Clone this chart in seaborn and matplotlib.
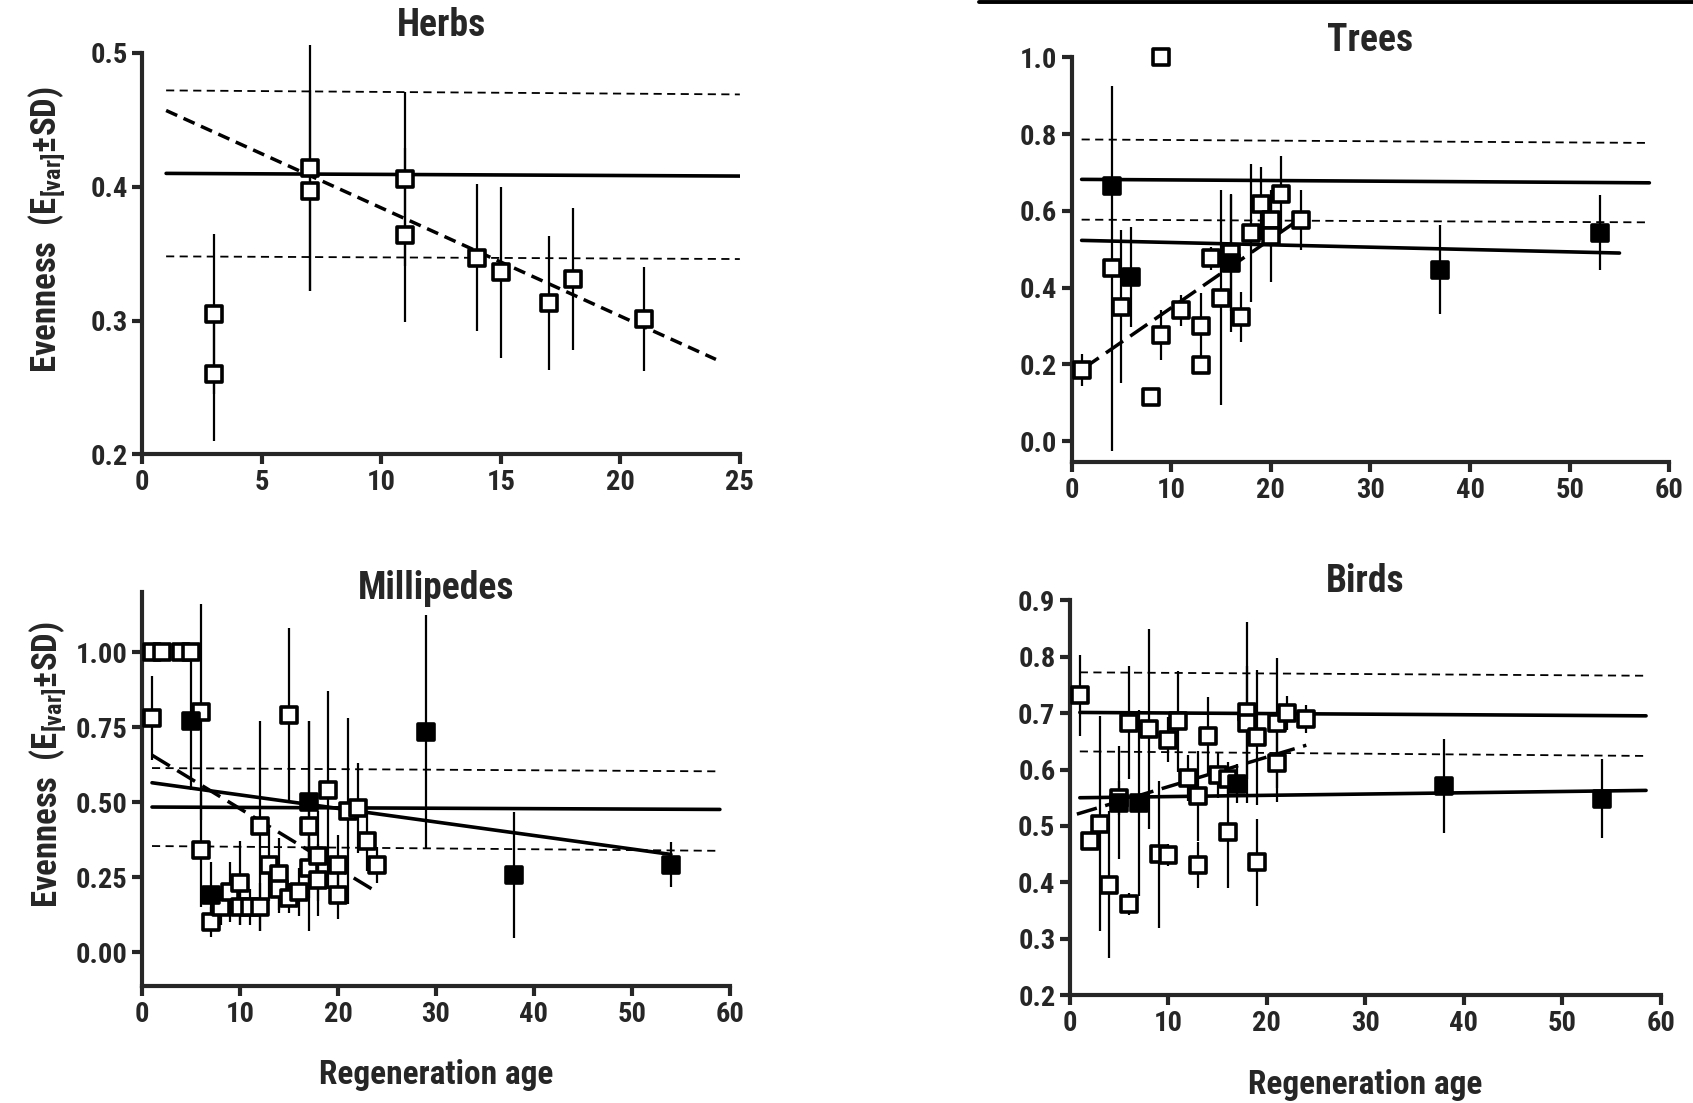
import matplotlib
matplotlib.use('Agg')
import matplotlib.pyplot as plt
import seaborn as sns
from matplotlib import font_manager
from matplotlib.lines import Line2D

# ---------------- data ----------------

# Herbs (all open squares)
herbs_age = [3, 3, 7, 7, 11, 11, 14, 15, 17, 18, 21]
herbs_even = [0.305, 0.26, 0.414, 0.397, 0.406, 0.364, 0.347, 0.336, 0.313, 0.331, 0.301]
herbs_sd = [0.06, 0.05, 0.092, 0.075, 0.065, 0.065, 0.055, 0.064, 0.05, 0.053, 0.039]

# Trees
trees_age = [1, 4, 5, 8, 9, 9, 11, 13, 13, 14, 15, 16, 17, 18, 19, 20, 20, 21, 23]
trees_even = [0.185, 0.45, 0.35, 0.115, 1.0, 0.276, 0.341, 0.30, 0.197, 0.476, 0.373,
              0.49, 0.323, 0.543, 0.619, 0.575, 0.535, 0.643, 0.577]
trees_sd = [0.042, 0.475, 0.2, 0, 0, 0.066, 0.04, 0.085, 0, 0.03, 0.28,
            0.15, 0.065, 0.18, 0.095, 0.07, 0.12, 0.1, 0.078]
trees_old_age = [4, 6, 16, 37, 53]
trees_old_even = [0.665, 0.428, 0.463, 0.447, 0.543]
trees_old_sd = [0, 0.13, 0.18, 0.115, 0.098]

# Millipedes
mill_age = [1, 2, 4, 5, 1, 6, 6, 7, 8, 9, 10, 10, 11, 12, 12, 13, 14, 14, 15, 15,
            16, 17, 17, 18, 18, 19, 20, 20, 21, 22, 23, 24]
mill_even = [1.0, 1.0, 1.0, 1.0, 0.78, 0.80, 0.34, 0.10, 0.15, 0.20, 0.23, 0.15, 0.15,
             0.15, 0.42, 0.29, 0.26, 0.21, 0.79, 0.18, 0.20, 0.42, 0.28, 0.32, 0.24,
             0.54, 0.29, 0.19, 0.47, 0.48, 0.37, 0.29]
mill_sd = [0, 0, 0, 0, 0.14, 0.36, 0.19, 0.05, 0.06, 0.1, 0.14, 0.06, 0.06, 0.08, 0.35,
           0.12, 0.12, 0.08, 0.29, 0.05, 0.08, 0.35, 0.1, 0.15, 0.12, 0.33, 0.1, 0.08,
           0.31, 0.15, 0.1, 0.06]
mill_old_age = [5, 7, 17, 29, 38, 54]
mill_old_even = [0.77, 0.19, 0.50, 0.735, 0.257, 0.291]
mill_old_sd = [0.23, 0.11, 0.27, 0.39, 0.21, 0.075]

# Birds
birds_age = [1, 2, 3, 4, 5, 6, 6, 8, 9, 10, 10, 11, 12, 13, 13, 14, 15, 16, 16, 18, 18,
             19, 19, 21, 21, 22, 24]
birds_even = [0.731, 0.473, 0.504, 0.396, 0.55, 0.362, 0.683, 0.672, 0.45, 0.449, 0.653,
              0.685, 0.585, 0.553, 0.431, 0.659, 0.59, 0.584, 0.49, 0.701, 0.683, 0.657,
              0.436, 0.683, 0.612, 0.70, 0.689]
birds_sd = [0.072, 0, 0.19, 0.13, 0.03, 0.02, 0.1, 0.177, 0.13, 0.02, 0.04, 0.09, 0.04,
            0.08, 0.04, 0.07, 0.04, 0.03, 0.1, 0.16, 0.1, 0.12, 0.077, 0.115, 0.07, 0.03,
            0.025]
birds_old_age = [5, 7, 17, 38, 54]
birds_old_even = [0.541, 0.541, 0.575, 0.571, 0.548]
birds_old_sd = [0.1, 0.165, 0.035, 0.083, 0.07]

# fitted / reference lines: (x ends, y ends, kind)
herbs_lines = [([1, 25], [0.472, 0.469], 'band'),
               ([1, 25], [0.410, 0.408], 'mean'),
               ([1, 25], [0.348, 0.346], 'band'),
               ([1, 24], [0.457, 0.271], 'trend_short')]
trees_lines = [([1, 58], [0.786, 0.777], 'band'),
               ([1, 58], [0.682, 0.673], 'mean'),
               ([1, 58], [0.577, 0.570], 'band'),
               ([1, 55], [0.523, 0.490], 'mean'),
               ([1, 23.2], [0.186, 0.584], 'trend_long')]
mill_lines = [([1, 59], [0.614, 0.603], 'band'),
              ([1, 59], [0.484, 0.476], 'mean'),
              ([1, 59], [0.354, 0.338], 'band'),
              ([1, 54], [0.565, 0.326], 'mean'),
              ([1, 24], [0.657, 0.200], 'trend_long')]
birds_lines = [([1, 58.5], [0.772, 0.766], 'band'),
               ([1, 58.5], [0.701, 0.695], 'mean'),
               ([1, 58.5], [0.632, 0.624], 'band'),
               ([1, 58.5], [0.550, 0.563], 'mean'),
               ([0.7, 24], [0.521, 0.643], 'trend_long')]

# ---------------- style ----------------
sns.set_style('ticks')
names = {f.name for f in font_manager.fontManager.ttflist}
FONT = 'Liberation Sans'
for cand in ('Liberation Sans Narrow', 'Roboto Condensed', 'Open Sans Condensed',
             'DejaVu Sans Condensed'):
    if cand in names:
        FONT = cand
        break
plt.rcParams['font.family'] = [FONT, 'DejaVu Sans']
plt.rcParams['font.weight'] = 'bold'
plt.rcParams['mathtext.fontset'] = 'custom'
plt.rcParams['mathtext.rm'] = FONT + ':bold'
plt.rcParams['mathtext.it'] = FONT + ':bold'
plt.rcParams['mathtext.bf'] = FONT + ':bold'

LINE_STYLES = {
    'mean': dict(linewidth=2.6, linestyle='-'),
    'band': dict(linewidth=1.3, linestyle=(0, (4.5, 3))),
    'trend_short': dict(linewidth=2.5, linestyle=(0, (3.5, 2))),
    'trend_long': dict(linewidth=2.5, linestyle=(0, (6, 2.5))),
}

YLABEL = 'Evenness  (E$_{[var]}$±SD)'


def draw_panel(ax, title, title_y, groups, lines, xlim, ylim, xticks, yticks, yfmt):
    for xs, ys, kind in lines:
        sns.lineplot(x=xs, y=ys, ax=ax, color='black', zorder=2, **LINE_STYLES[kind])

    for age, even, sd, filled in groups:
        ax.errorbar(age, even, yerr=sd, fmt='none', ecolor='black',
                    elinewidth=1.6, capsize=0, zorder=2.5, clip_on=False)
        sns.scatterplot(x=age, y=even, ax=ax, marker='s', s=140,
                        color='black' if filled else 'white',
                        edgecolor='black', linewidth=2.6, zorder=3, clip_on=False)

    ax.set_xlim(*xlim)
    ax.set_ylim(*ylim)
    ax.set_xticks(xticks)
    ax.set_yticks(yticks)
    ax.set_yticklabels([yfmt.format(v) for v in yticks])
    sns.despine(ax=ax)
    ax.spines['left'].set_bounds(ylim[0], ylim[1])
    ax.spines['bottom'].set_bounds(xlim[0], xlim[1])
    for sp in ('left', 'bottom'):
        ax.spines[sp].set_linewidth(3)
    ax.tick_params(width=3, length=7.5, labelsize=20.5, pad=3)
    ax.text(0.5, title_y, title, transform=ax.transAxes, ha='center', va='center',
            fontsize=27, fontweight='bold')
    ax.set_xlabel('')
    ax.set_ylabel('')


fig = plt.figure(figsize=(16.93, 11.03), dpi=100)

ax_h = fig.add_axes([0.084, 0.588, 0.353, 0.364])
ax_t = fig.add_axes([0.633, 0.581, 0.353, 0.367])
ax_m = fig.add_axes([0.084, 0.106, 0.347, 0.357])
ax_b = fig.add_axes([0.632, 0.0975, 0.349, 0.3585])

draw_panel(ax_h, 'Herbs', 1.068,
           [(herbs_age, herbs_even, herbs_sd, False)],
           herbs_lines, (0, 25), (0.2, 0.5), range(0, 26, 5),
           [0.2, 0.3, 0.4, 0.5], '{:.1f}')
draw_panel(ax_t, 'Trees', 1.042,
           [(trees_age, trees_even, trees_sd, False),
            (trees_old_age, trees_old_even, trees_old_sd, True)],
           trees_lines, (0, 60), (-0.055, 1.0), range(0, 61, 10),
           [0.0, 0.2, 0.4, 0.6, 0.8, 1.0], '{:.1f}')
draw_panel(ax_m, 'Millipedes', 1.01,
           [(mill_age, mill_even, mill_sd, False),
            (mill_old_age, mill_old_even, mill_old_sd, True)],
           mill_lines, (0, 60), (-0.113, 1.2), range(0, 61, 10),
           [0.0, 0.25, 0.5, 0.75, 1.0], '{:.2f}')
draw_panel(ax_b, 'Birds', 1.048,
           [(birds_age, birds_even, birds_sd, False),
            (birds_old_age, birds_old_even, birds_old_sd, True)],
           birds_lines, (0, 60), (0.2, 0.9), range(0, 61, 10),
           [0.2, 0.3, 0.4, 0.5, 0.6, 0.7, 0.8, 0.9], '{:.1f}')

for ax, ypos in ((ax_h, 0.56), (ax_m, 0.563)):
    ax.set_ylabel(YLABEL, fontsize=25, fontweight='bold')
    ax.yaxis.set_label_coords(-0.125, ypos)
for ax in (ax_m, ax_b):
    ax.set_xlabel('Regeneration age', fontsize=24, fontweight='bold')
    ax.xaxis.set_label_coords(0.5, -0.185)

# scan edge line along the top right
fig.add_artist(Line2D([0.578, 1.0], [0.998, 0.998], color='black', linewidth=2.8,
                      transform=fig.transFigure))

fig.savefig('out.png', dpi=100, facecolor='white')
